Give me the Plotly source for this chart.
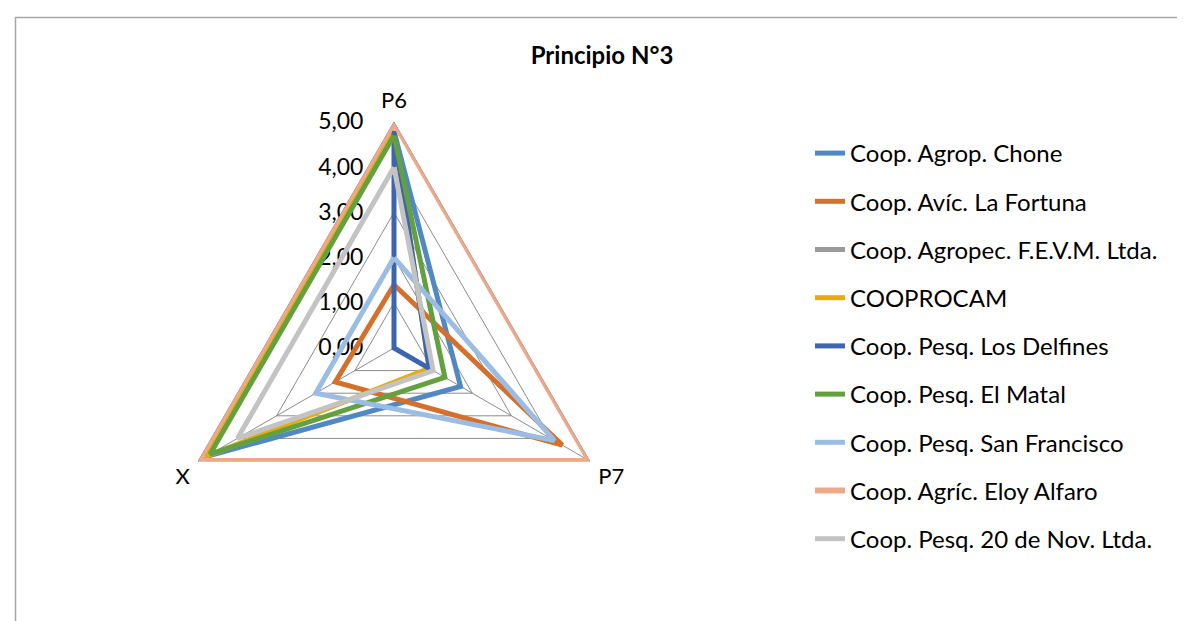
import plotly.graph_objects as go

W, H = 1185, 621

axes = ["P6", "P7", "X"]
series_names = [
    "Coop. Agrop. Chone",
    "Coop. Avíc. La Fortuna",
    "Coop. Agropec. F.E.V.M. Ltda.",
    "COOPROCAM",
    "Coop. Pesq. Los Delfines",
    "Coop. Pesq. El Matal",
    "Coop. Pesq. San Francisco",
    "Coop. Agríc. Eloy Alfaro",
    "Coop. Pesq. 20 de Nov. Ltda.",
]
chone = [4.8, 1.7, 4.8]
la_fortuna = [1.4, 4.3, 1.5]
fevm = [5.0, 5.0, 5.0]
cooprocam = [4.8, 0.9, 4.8]
delfines = [4.8, 0.9, 0.0]
el_matal = [4.7, 1.3, 4.7]
san_francisco = [2.0, 4.1, 2.0]
eloy_alfaro = [5.0, 5.0, 5.0]
veinte_nov = [4.0, 1.0, 4.0]
series_values = [chone, la_fortuna, fevm, cooprocam, delfines, el_matal,
                 san_francisco, eloy_alfaro, veinte_nov]
colors = ["#4F88C2", "#D5702C", "#9A9A9A", "#E5AC0A", "#3D64B0",
          "#63A03F", "#9BBCE3", "#F0A88A", "#C3C3C3"]
widths = [5, 5, 5, 5, 5, 5, 5, 6, 5]

radial_ticks = [0, 1, 2, 3, 4, 5]
radial_ticktext = ["0,00", "1,00", "2,00", "3,00", "4,00", "5,00"]

FONT = "Lato"

fig = go.Figure()
for i, (name, vals) in enumerate(zip(series_names, series_values)):
    fig.add_trace(go.Scatterpolar(
        r=vals + vals[:1], theta=axes + axes[:1], mode="lines", name=name,
        line=dict(color=colors[i], width=widths[i]),
        legendgroup=f"g{i}", cliponaxis=False,
    ))

cx, cy, R = 386, 340, 226
fig.update_layout(
    width=W, height=H,
    margin=dict(l=0, r=0, t=0, b=0),
    paper_bgcolor="white", plot_bgcolor="white",
    font=dict(family=FONT, color="black"),
    title=dict(text="<b>Principio N°3</b>", x=594 / W, y=1 - 48 / H,
               xanchor="center", yanchor="middle",
               font=dict(size=24, family=FONT)),
    polar=dict(
        domain=dict(x=[(cx - R) / W, (cx + R) / W],
                    y=[1 - (cy + R) / H, 1 - (cy - R) / H]),
        gridshape="linear",
        bgcolor="white",
        radialaxis=dict(range=[0, 5], tickvals=radial_ticks,
                        ticktext=radial_ticktext, angle=90, tickangle=90,
                        side="counterclockwise", showline=False,
                        gridcolor="#8C8C8C", gridwidth=1,
                        ticks="outside", ticklen=22,
                        tickcolor="rgba(0,0,0,0)", layer="below traces",
                        tickfont=dict(size=23, family=FONT)),
        angularaxis=dict(rotation=90, direction="clockwise",
                         showline=True, linecolor="#8C8C8C", linewidth=1,
                         gridcolor="#8C8C8C", gridwidth=1,
                         ticks="outside", ticklen=5, layer="below traces",
                         tickcolor="rgba(0,0,0,0)",
                         tickfont=dict(size=22, family=FONT)),
    ),
    legend=dict(x=802 / W, y=1 - 123 / H, xanchor="left", yanchor="top",
                traceorder="grouped", tracegroupgap=14,
                font=dict(size=24, family=FONT)),
    shapes=[dict(type="rect", xref="paper", yref="paper",
                 x0=7.5 / W, x1=1.05, y0=-0.05, y1=1 - 9.5 / H,
                 line=dict(color="#A6A6A6", width=1.5))],
)

fig.write_html("out.html")
